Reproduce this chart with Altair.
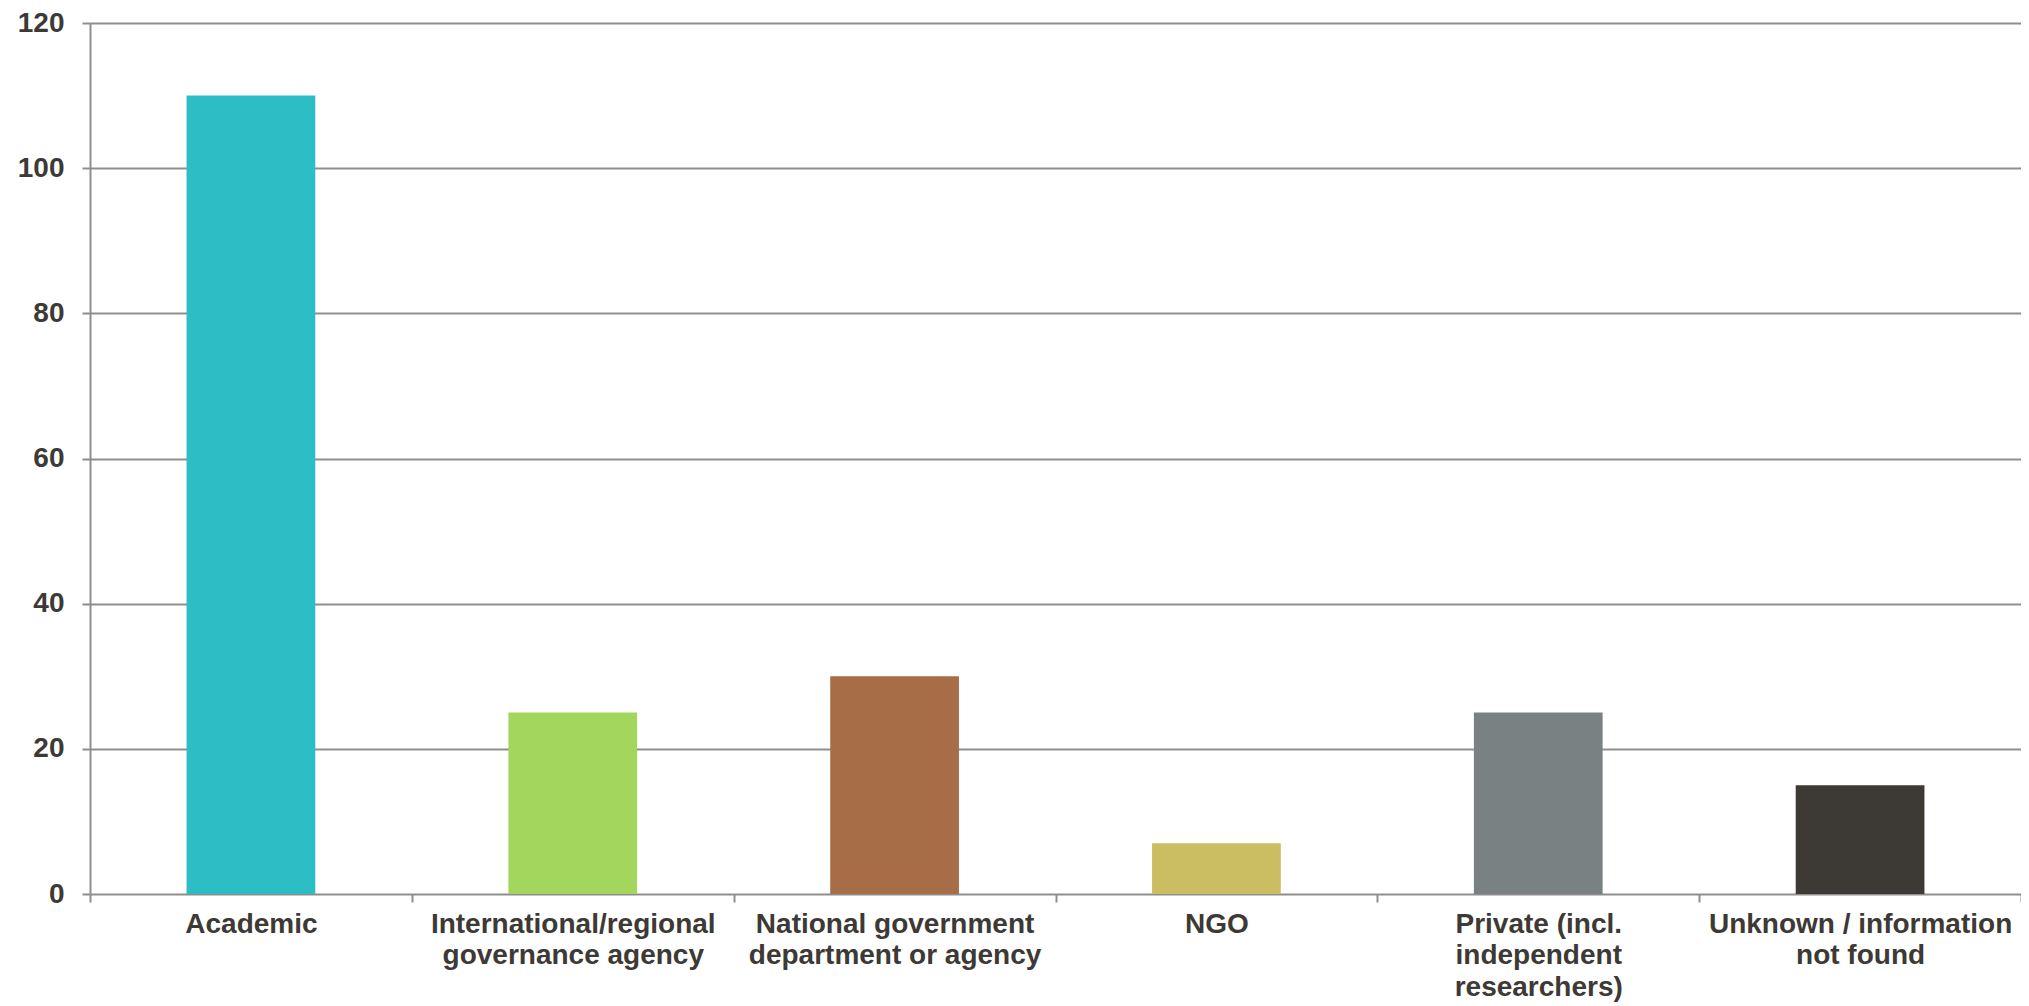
import altair as alt
import pandas as pd

categories = [
    "Academic",
    "International/regional\ngovernance agency",
    "National government\ndepartment or agency",
    "NGO",
    "Private (incl.\nindependent\nresearchers)",
    "Unknown / information\nnot found",
]
values = [110, 25, 30, 7, 25, 15]
colors = ["#2dbdc5", "#a3d65c", "#a66d47", "#cbbd62", "#7a8182", "#3d3a36"]
y_ticks = [0, 20, 40, 60, 80, 100, 120]

df = pd.DataFrame({"category": categories, "value": values})

FONT = "Liberation Sans"
TXT = "#3d3935"
GRID = "#8e8e8e"

chart = (
    alt.Chart(df)
    .mark_bar(width=alt.RelativeBandSize(0.4))
    .encode(
        x=alt.X(
            "category:N",
            sort=categories,
            title=None,
            scale=alt.Scale(paddingInner=0, paddingOuter=0),
            axis=alt.Axis(
                labelAngle=0,
                labelExpr="split(datum.label, '\\n')",
                labelFont=FONT,
                labelFontSize=28,
                labelFontWeight="bold",
                labelColor=TXT,
                labelLineHeight=31.5,
                labelPadding=8,
                labelLimit=400,
                tickBand="extent",
                tickSize=8,
                tickColor=GRID,
                tickWidth=2,
                domain=False,
                grid=False,
            ),
        ),
        y=alt.Y(
            "value:Q",
            title=None,
            scale=alt.Scale(domain=[0, 120], nice=False),
            axis=alt.Axis(
                values=y_ticks,
                labelFont=FONT,
                labelFontSize=28,
                labelFontWeight="bold",
                labelColor=TXT,
                labelPadding=18,
                tickSize=8,
                tickColor=GRID,
                tickWidth=2,
                domainColor=GRID,
                domainWidth=2,
                gridColor=GRID,
                gridWidth=2,
                gridOpacity=1,
            ),
        ),
        color=alt.Color(
            "category:N",
            sort=categories,
            scale=alt.Scale(domain=categories, range=colors),
            legend=None,
        ),
    )
    .properties(
        width=1931,
        height=871,
        autosize=alt.AutoSizeParams(type="none"),
        padding={"left": 82, "top": 15, "right": 0, "bottom": 112},
    )
    .configure_view(stroke=None)
    .configure(background="white")
)

chart.save("out.html", embed_options={"renderer": "svg", "actions": False})
